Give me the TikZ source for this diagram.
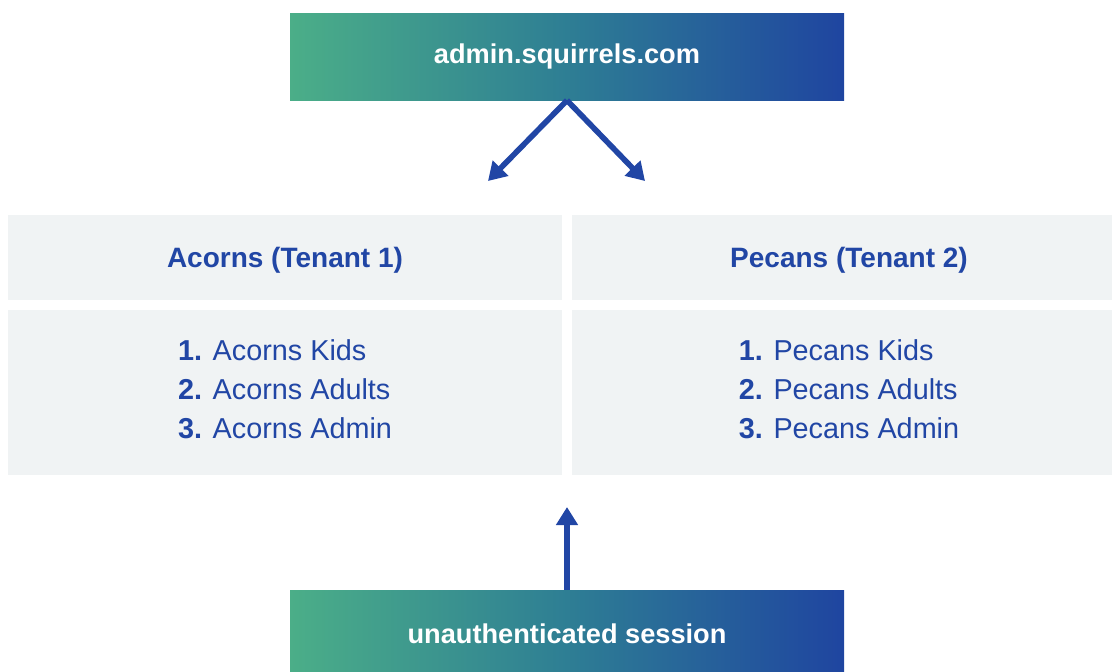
\documentclass[tikz,border=0pt]{standalone}
\usepackage{fontspec}
\setmainfont{Liberation Sans}
\usetikzlibrary{arrows.meta}
\definecolor{gl}{HTML}{4BAE88}
\definecolor{gm}{HTML}{2E7E94}
\definecolor{gr}{HTML}{1F45A0}
\definecolor{tb}{HTML}{2146A5}
\definecolor{bg}{HTML}{F0F3F4}
\newcommand{\shiftv}[2]{\raisebox{#1}[\height][\depth]{#2}}
\newcommand{\itemlist}[3]{\shiftv{0.3pt}{\begin{tabular}{@{}l@{}}\textbf{1.} #1\\[0.3pt]\textbf{2.} #2\\[0.3pt]\textbf{3.} #3\end{tabular}}}
\begin{document}
\begin{tikzpicture}[x=0.5pt,y=-0.5pt,
 gradbox/.style={rectangle, inner sep=0pt, minimum width=277pt, minimum height=43.5pt,
   left color=gl, right color=gr, middle color=gm, text=white,
   font=\fontsize{13.6}{16}\selectfont\bfseries},
 headbox/.style={rectangle, inner sep=0pt, fill=bg, minimum width=277pt, minimum height=42.5pt,
   text=tb, font=\fontsize{14}{17}\selectfont\bfseries},
 bodybox/.style={rectangle, inner sep=0pt, fill=bg, minimum width=277pt, minimum height=82.5pt,
   text=tb, font=\fontsize{14.4}{19.25}\selectfont},
 arr/.style={draw=tb, line width=2.8pt, -{Triangle[length=9pt,width=10.5pt]}}]
\useasboundingbox (0,0) rectangle (1112,671);
\node[gradbox] (top) at (567,56.5) {admin.squirrels.com};
\node[headbox] (h1) at (285,257.5) {\shiftv{-1.5pt}{Acorns (Tenant 1)}};
\node[headbox] (h2) at (849,257.5) {\shiftv{-1.5pt}{Pecans (Tenant 2)}};
\node[bodybox] (b1) at (285,392.5) {\itemlist{Acorns Kids}{Acorns Adults}{Acorns Admin}};
\node[bodybox] (b2) at (849,392.5) {\itemlist{Pecans Kids}{Pecans Adults}{Pecans Admin}};
\node[gradbox] (bot) at (567,633.5) {unauthenticated session};
\coordinate (a1) at (488,181);
\coordinate (a2) at (645,181);
\coordinate (a3) at (567,507);
\draw[arr] (top.south) -- (a1);
\draw[arr] (top.south) -- (a2);
\draw[arr] (bot.north) -- (a3);
\end{tikzpicture}
\end{document}
